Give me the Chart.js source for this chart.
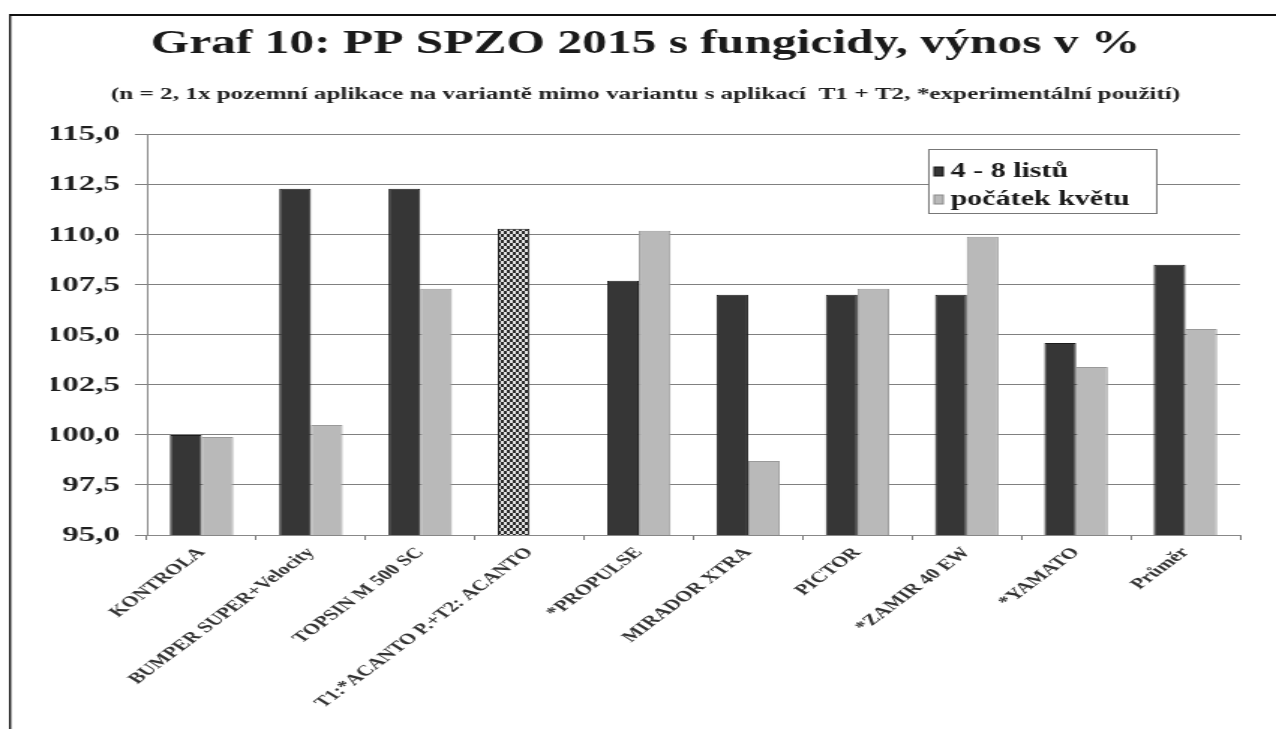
<!DOCTYPE html>
<html>
<head>
<meta charset="utf-8">
<script src="https://cdn.jsdelivr.net/npm/chart.js@4.4.1/dist/chart.umd.min.js"></script>
<style>
  html, body { margin: 0; padding: 0; background: #fff; overflow: hidden; }
  #graf { position: absolute; left: 0; top: 0; }
</style>
</head>
<body>
<!-- the reference is stretched sideways, so the canvas is drawn narrow and widened by its inline style -->
<canvas id="graf" width="851" height="729" style="width:1276px;height:729px"></canvas>
<script>
var categories = [
  "KONTROLA",
  "BUMPER SUPER+Velocity",
  "TOPSIN M 500 SC",
  "T1:*ACANTO P.+T2: ACANTO",
  "*PROPULSE",
  "MIRADOR XTRA",
  "PICTOR",
  "*ZAMIR 40 EW",
  "*YAMATO",
  "Průměr"
];
var listu = [100.0, 112.3, 112.3, 110.3, 107.7, 107.0, 107.0, 107.0, 104.6, 108.5];
var kvetu = [99.9, 100.5, 107.3, null, 110.2, 98.7, 107.3, 109.9, 103.4, 105.3];
var seriesNames = ["4 - 8 listů", "počátek květu"];
var yTicks = { min: 95, max: 115, step: 2.5 };

var titleText = "Graf 10: PP SPZO 2015 s fungicidy, výnos v %";
var subtitleText = "(n = 2, 1x pozemní aplikace na variantě mimo variantu s aplikací  T1 + T2, *experimentální použití)";

var serif = "'Liberation Serif', 'Times New Roman', serif";
var darkCol = "#363636";
var lightCol = "#b9b9b9";

// checkered fill for the variant that only has the T1+T2 application
function makeChecker() {
  var c = document.createElement("canvas");
  c.width = 4; c.height = 6;
  var x = c.getContext("2d");
  x.fillStyle = "#2a2a2a";
  x.fillRect(0, 0, 4, 6);
  x.fillStyle = "#e4e4e4";
  x.fillRect(0, 0, 2, 3);
  x.fillRect(2, 3, 2, 3);
  return document.getElementById("graf").getContext("2d").createPattern(c, "repeat");
}
var checker = makeChecker();

var darkFill = [];
for (var i = 0; i < listu.length; i++) {
  darkFill.push(kvetu[i] === null ? checker : darkCol);
}

// frame round the picture
var framePlugin = {
  id: "frame",
  beforeDraw: function(chart) {
    var ctx = chart.ctx;
    ctx.save();
    ctx.fillStyle = "#fff";
    ctx.fillRect(0, 0, chart.width, chart.height);
    ctx.strokeStyle = "#111";
    ctx.lineWidth = 2;
    ctx.beginPath();
    ctx.moveTo(6.7, 15);
    ctx.lineTo(chart.width, 15);
    ctx.stroke();
    ctx.lineWidth = 1.4;
    ctx.beginPath();
    ctx.moveTo(6.7, 14);
    ctx.lineTo(6.7, chart.height);
    ctx.stroke();
    ctx.restore();
  }
};

// legend box inside the plot, top right
var boxLegend = {
  id: "boxLegend",
  afterDraw: function(chart) {
    var ctx = chart.ctx;
    var ds = chart.data.datasets;
    var x0 = 619, y0 = 149, w = 152, h = 64;
    ctx.save();
    ctx.fillStyle = "#fff";
    ctx.fillRect(x0, y0, w, h);
    ctx.strokeStyle = "#777";
    ctx.lineWidth = 1;
    ctx.strokeRect(x0 + 0.5, y0 + 0.5, w, h);
    ctx.font = "bold 20px " + serif;
    ctx.textBaseline = "middle";
    for (var k = 0; k < ds.length; k++) {
      var cy = 172 + k * 28;
      ctx.fillStyle = k === 0 ? darkCol : lightCol;
      ctx.fillRect(x0 + 4, cy - 5, 6, 9);
      ctx.strokeStyle = k === 0 ? "#111" : "#888";
      ctx.strokeRect(x0 + 4, cy - 5, 6, 9);
      ctx.fillStyle = "#1a1a1a";
      ctx.fillText(ds[k].label, x0 + 15, cy);
    }
    ctx.restore();
  }
};

new Chart(document.getElementById("graf"), {
  type: "bar",
  data: {
    labels: categories,
    datasets: [
      {
        label: seriesNames[0],
        data: listu,
        backgroundColor: darkFill,
        borderColor: "#1c1c1c",
        borderWidth: 1,
        barPercentage: 1.0,
        categoryPercentage: 0.58
      },
      {
        label: seriesNames[1],
        data: kvetu,
        backgroundColor: lightCol,
        borderColor: "#9a9a9a",
        borderWidth: 1,
        barPercentage: 1.0,
        categoryPercentage: 0.58
      }
    ]
  },
  options: {
    responsive: false,
    animation: false,
    devicePixelRatio: 1,
    layout: { padding: { left: 34, right: 24, top: 0, bottom: 0 } },
    plugins: {
      legend: { display: false },
      tooltip: { enabled: false },
      title: {
        display: true,
        text: titleText,
        color: "#1a1a1a",
        font: { family: serif, size: 33, weight: "bold" },
        padding: { top: 25, bottom: 4 }
      },
      subtitle: {
        display: true,
        text: subtitleText,
        color: "#222",
        font: { family: serif, size: 16.8, weight: "bold" },
        padding: { top: 16, bottom: 30 }
      }
    },
    scales: {
      x: {
        grid: { offset: true, drawOnChartArea: false, drawTicks: true, tickLength: 5, color: "#777" },
        border: { color: "#888" },
        ticks: {
          autoSkip: false,
          minRotation: 48,
          maxRotation: 48,
          padding: 4,
          color: "#333",
          font: { family: serif, size: 15, weight: "bold" }
        },
        afterFit: function(scale) { scale.height = 194; }
      },
      y: {
        min: yTicks.min,
        max: yTicks.max,
        grid: { color: "#808080", tickLength: 8 },
        border: { color: "#888" },
        ticks: {
          stepSize: yTicks.step,
          padding: 10,
          color: "#1e1e1e",
          font: { family: serif, size: 22, weight: "bold" },
          callback: function(v) { return v.toFixed(1).replace(".", ","); }
        },
        afterFit: function(scale) { scale.width = 64; }
      }
    }
  },
  plugins: [framePlugin, boxLegend]
});
</script>
</body>
</html>
